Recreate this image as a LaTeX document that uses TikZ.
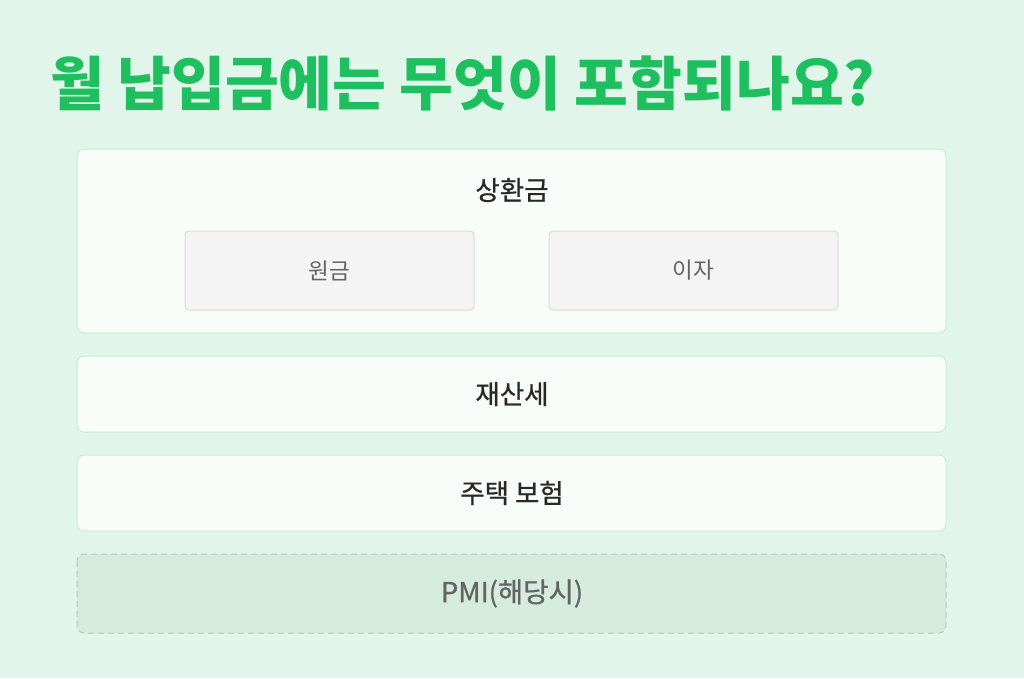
\documentclass[tikz,border=0pt]{standalone}
\usepackage{fontspec}
\setmainfont{Noto Sans CJK KR}
\newfontfamily\medfont[FakeBold=0.8]{Noto Sans CJK KR}
\definecolor{bg}{RGB}{226,245,234}
\definecolor{titlegreen}{RGB}{29,191,94}
\definecolor{cardfill}{RGB}{248,253,250}
\definecolor{cardline}{RGB}{196,238,212}
\definecolor{subfill}{RGB}{244,244,244}
\definecolor{subline}{RGB}{218,218,218}
\definecolor{pmifill}{RGB}{212,235,221}
\definecolor{pmiline}{RGB}{190,196,192}
\definecolor{darktext}{RGB}{40,40,40}
\definecolor{graytext}{RGB}{100,100,100}
\tikzset{
  card/.style={draw=cardline, fill=cardfill, line width=1pt, rounded corners=7pt},
  subcard/.style={draw=subline, fill=subfill, line width=1pt, rounded corners=4pt},
  pmicard/.style={draw=pmiline, fill=pmifill, line width=1pt, dashed, dash pattern=on 6pt off 4pt, rounded corners=7pt},
  cardtext/.style={text=darktext, font=\medfont\fontsize{26.5}{30}\selectfont},
  subtext/.style={text=graytext, font=\fontsize{22.5}{26}\selectfont},
}
\begin{document}
\begin{tikzpicture}[x=1pt,y=-1pt]
\fill[bg] (0,0) rectangle (1024,678);
\useasboundingbox (0,0) rectangle (1024,678);
\node[anchor=west, text=titlegreen, font=\fontsize{58.5}{64}\selectfont\bfseries, inner sep=0pt] (title) at (50,83) {월 납입금에는 무엇이 포함되나요?};
% card 1
\draw[card] (77,149) rectangle (946,333);
\node[cardtext] (c1) at (512,190) {상환금};
\draw[subcard] (185,231) rectangle (474,310);
\node[subtext] (p) at (329.5,270.5) {원금};
\draw[subcard] (549,231) rectangle (838,310);
\node[subtext] (i) at (693.5,270.5) {이자};
% card 2
\draw[card] (77,356) rectangle (946,432);
\node[cardtext] (c2) at (512,394) {재산세};
% card 3
\draw[card] (77,455) rectangle (946,531);
\node[cardtext] (c3) at (512,493) {주택 보험};
% card 4
\draw[pmicard] (77,554) rectangle (946,633);
\node[text=graytext, font=\medfont\fontsize{27.5}{32}\selectfont] (c4) at (512,593.5) {PMI(해당시)};
\end{tikzpicture}
\end{document}
